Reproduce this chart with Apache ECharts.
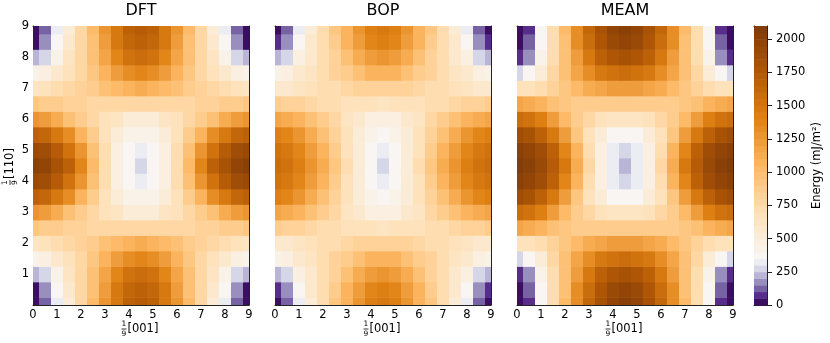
<!DOCTYPE html>
<html>
<head>
<meta charset="utf-8">
<script src="https://cdn.jsdelivr.net/npm/echarts@6/dist/echarts.min.js"></script>
<style>
html, body { margin: 0; padding: 0; background: #fff; }
#chart { width: 830px; height: 343px; }
</style>
</head>
<body>
<div id="chart"></div>
<script>
// grid nodes (x along [001], y along [110]) for the lower-left quarter, the
// surfaces are mirror symmetric about 4.5 in both directions
var steps = [0, 0.5, 1, 1.5, 2, 2.5, 3, 3.5, 4, 4.5];
var panelTitles = ['DFT', 'BOP', 'MEAM'];
var axisTicks = [0, 1, 2, 3, 4, 5, 6, 7, 8, 9];
var energyTicks = [0, 250, 500, 750, 1000, 1250, 1500, 1750, 2000];
var levels = [0, 50, 100, 150, 200, 250, 300, 350, 400, 450, 500, 550, 600, 650, 700,
  750, 800, 850, 900, 950, 1000, 1050, 1100, 1150, 1200, 1250, 1300, 1350, 1400,
  1450, 1500, 1550, 1600, 1650, 1700, 1750, 1800, 1850, 1900, 1950, 2000, 2050, 2100];

// rows: y = 0 .. 4.5, columns: x = 0 .. 4.5  (mJ/m^2)
var dft = [
  [0, 110, 310, 540, 760, 1000, 1250, 1480, 1650, 1720],
  [40, 150, 350, 560, 760, 990, 1230, 1450, 1610, 1680],
  [200, 270, 440, 600, 760, 960, 1170, 1360, 1500, 1550],
  [420, 460, 560, 660, 770, 920, 1070, 1210, 1310, 1350],
  [640, 660, 700, 750, 800, 870, 950, 1030, 1090, 1110],
  [900, 890, 860, 830, 800, 790, 790, 790, 790, 780],
  [1250, 1220, 1120, 980, 850, 760, 680, 600, 540, 520],
  [1650, 1610, 1490, 1300, 1080, 860, 680, 530, 440, 410],
  [1900, 1860, 1740, 1540, 1280, 980, 700, 480, 380, 340],
  [2000, 1960, 1840, 1650, 1380, 1020, 700, 460, 360, 290]
];
var bop = [
  [10, 130, 340, 540, 720, 900, 1080, 1250, 1400, 1460],
  [60, 170, 380, 560, 720, 880, 1050, 1210, 1350, 1400],
  [220, 290, 450, 590, 710, 840, 980, 1110, 1220, 1260],
  [440, 470, 560, 640, 720, 800, 890, 980, 1050, 1070],
  [560, 580, 640, 690, 720, 740, 770, 800, 820, 830],
  [850, 840, 810, 770, 730, 700, 680, 660, 650, 640],
  [1150, 1120, 1060, 970, 860, 750, 640, 550, 490, 470],
  [1400, 1360, 1280, 1140, 980, 820, 660, 510, 410, 380],
  [1530, 1490, 1390, 1240, 1070, 880, 690, 500, 360, 310],
  [1580, 1540, 1430, 1280, 1100, 900, 700, 510, 360, 290]
];
var meam = [
  [0, 90, 360, 700, 1000, 1320, 1600, 1820, 1950, 2000],
  [20, 110, 390, 700, 990, 1300, 1570, 1780, 1910, 1950],
  [90, 180, 440, 720, 980, 1240, 1480, 1670, 1780, 1820],
  [290, 350, 540, 760, 960, 1150, 1320, 1450, 1530, 1560],
  [650, 680, 740, 830, 940, 1040, 1120, 1180, 1220, 1230],
  [1150, 1120, 1060, 990, 920, 880, 860, 860, 860, 860],
  [1550, 1510, 1400, 1230, 1040, 880, 760, 670, 620, 600],
  [1850, 1810, 1680, 1470, 1200, 920, 690, 510, 390, 350],
  [2000, 1960, 1850, 1660, 1380, 1050, 740, 470, 320, 250],
  [2050, 2010, 1900, 1720, 1460, 1130, 780, 480, 320, 200]
];

var FONT = 'DejaVu Sans';
var panels = [dft, bop, meam];
var panelLeft = [33, 275, 517];
var PLOT_TOP = 26, PLOT_W = 216, PLOT_H = 279;

// PuOr reversed, white point pulled down to ~350
var puor = ['#2d004b', '#542788', '#8073ac', '#b2abd2', '#d8daeb', '#f7f7f7',
  '#fee0b6', '#fdb863', '#e08214', '#b35806', '#7f3b08'];
function rgb(h) {
  return [parseInt(h.substr(1, 2), 16), parseInt(h.substr(3, 2), 16), parseInt(h.substr(5, 2), 16)];
}
function colorFor(v) {
  var t = v < 350 ? 0.5 * v / 350 : 0.5 + 0.5 * (v - 350) / (2100 - 350);
  var s = Math.max(0, Math.min(10, t * 10));
  var k = Math.min(9, Math.floor(s)), f = s - k;
  var a = rgb(puor[k]), b = rgb(puor[k + 1]);
  return 'rgb(' + [0, 1, 2].map(function (i) { return Math.round(a[i] + (b[i] - a[i]) * f); }).join(',') + ')';
}

var pieces = [];
for (var k = 0; k < levels.length - 1; k++) {
  var p = { gte: levels[k], color: colorFor((levels[k] + levels[k + 1]) / 2) };
  if (k === levels.length - 2) p.lte = levels[k + 1]; else p.lt = levels[k + 1];
  pieces.push(p);
}

// mirror the quarter into the full 0..9 square
function fullGrid(quad) {
  var out = [];
  var n = steps.length;
  for (var j = 0; j < 2 * n - 1; j++) {
    var qj = j < n ? j : 2 * n - 2 - j;
    var y = j < n ? steps[qj] : 9 - steps[qj];
    for (var i = 0; i < 2 * n - 1; i++) {
      var qi = i < n ? i : 2 * n - 2 - i;
      var x = i < n ? steps[qi] : 9 - steps[qi];
      out.push([x, y, quad[qj][qi]]);
    }
  }
  return out;
}

function cellItem(params, api) {
  var x = api.value(0), y = api.value(1);
  var a = api.coord([x - 0.25, y + 0.25]);
  var b = api.coord([x + 0.25, y - 0.25]);
  var cs = params.coordSys;
  var shape = echarts.graphic.clipRectByRect(
    { x: a[0], y: a[1], width: b[0] - a[0] + 0.6, height: b[1] - a[1] + 0.6 },
    { x: cs.x, y: cs.y, width: cs.width, height: cs.height });
  if (!shape) return null;
  return { type: 'rect', shape: shape, style: { fill: api.visual('color') } };
}

function bandItem(params, api) {
  var a = api.coord([0, api.value(1)]);
  var b = api.coord([1, api.value(0)]);
  return {
    type: 'rect',
    shape: { x: a[0], y: a[1], width: b[0] - a[0], height: b[1] - a[1] + 0.5 },
    style: { fill: api.visual('color') }
  };
}

var lineStyle = { color: '#222', width: 1 };
var grids = [], xAxes = [], yAxes = [], series = [], graphics = [];

panels.forEach(function (quad, k) {
  grids.push({ left: panelLeft[k], top: PLOT_TOP, width: PLOT_W, height: PLOT_H });
  ['bottom', 'top'].forEach(function (pos) {
    xAxes.push({
      gridIndex: k, type: 'value', position: pos, min: 0, max: 9, interval: 1,
      axisLine: { show: true, onZero: false, lineStyle: lineStyle },
      axisTick: { show: true, inside: true, length: 5, lineStyle: lineStyle },
      axisLabel: {
        show: pos === 'bottom', margin: 4, color: '#000', fontFamily: FONT, fontSize: 11.5,
        customValues: axisTicks
      },
      splitLine: { show: false }
    });
  });
  ['left', 'right'].forEach(function (pos) {
    yAxes.push({
      gridIndex: k, type: 'value', position: pos, min: 0, max: 9, interval: 1,
      axisLine: { show: true, onZero: false, lineStyle: lineStyle },
      axisTick: { show: true, inside: true, length: 5, lineStyle: lineStyle },
      axisLabel: {
        show: pos === 'left' && k === 0, showMinLabel: false, margin: 4,
        color: '#000', fontFamily: FONT, fontSize: 11.5
      },
      splitLine: { show: false }
    });
  });
  series.push({
    type: 'custom', name: panelTitles[k], xAxisIndex: 2 * k, yAxisIndex: 2 * k,
    renderItem: cellItem, clip: true, silent: true,
    dimensions: ['x', 'y', 'energy'], encode: { x: 0, y: 1 },
    data: fullGrid(quad)
  });
  var cx = panelLeft[k] + PLOT_W / 2;
  graphics.push({
    type: 'text', x: cx, y: 11,
    style: { text: panelTitles[k], fill: '#000', fontFamily: FONT, fontSize: 16, align: 'center', verticalAlign: 'middle' }
  });
  graphics.push(fracLabel(cx, 329, '[001]', 0));
});
graphics.push(fracLabel(10, PLOT_TOP + PLOT_H / 2, '[110]', Math.PI / 2));

function fracLabel(cx, cy, tail, rot) {
  var small = { fill: '#000', fontFamily: FONT, fontSize: 7.5, align: 'center', verticalAlign: 'middle' };
  return {
    type: 'group', x: cx, y: cy, rotation: rot, silent: true,
    children: [
      { type: 'text', style: Object.assign({ text: '1', x: -17, y: -4.5 }, small) },
      { type: 'line', shape: { x1: -19.5, y1: 0, x2: -14.5, y2: 0 }, style: { stroke: '#000', lineWidth: 0.8 } },
      { type: 'text', style: Object.assign({ text: '9', x: -17, y: 5 }, small) },
      {
        type: 'text',
        style: { text: tail, x: -13.5, y: 0, fill: '#000', fontFamily: FONT, fontSize: 11.5, align: 'left', verticalAlign: 'middle' }
      }
    ]
  };
}

// colour bar
grids.push({ left: 754, top: PLOT_TOP, width: 13, height: PLOT_H });
['bottom', 'top'].forEach(function (pos) {
  xAxes.push({
    gridIndex: 3, type: 'value', position: pos, min: 0, max: 1,
    axisLine: { show: true, onZero: false, lineStyle: lineStyle },
    axisTick: { show: false }, axisLabel: { show: false }, splitLine: { show: false }
  });
});
yAxes.push({
  gridIndex: 3, type: 'value', position: 'left', min: 0, max: 2100,
  axisLine: { show: true, onZero: false, lineStyle: lineStyle },
  axisTick: { show: false }, axisLabel: { show: false }, splitLine: { show: false }
});
yAxes.push({
  gridIndex: 3, type: 'value', position: 'right', min: 0, max: 2100,
  axisLine: { show: true, onZero: false, lineStyle: lineStyle },
  axisTick: { show: true, inside: false, length: 5, lineStyle: lineStyle, customValues: energyTicks },
  axisLabel: {
    margin: 9, color: '#000', fontFamily: FONT, fontSize: 11.5, customValues: energyTicks,
    formatter: function (v) { return String(v); }
  },
  splitLine: { show: false }
});
var bands = [];
for (var b = 0; b < levels.length - 1; b++) {
  bands.push([levels[b], levels[b + 1], (levels[b] + levels[b + 1]) / 2]);
}
series.push({
  type: 'custom', name: 'colorbar', xAxisIndex: 6, yAxisIndex: 7,
  renderItem: bandItem, silent: true,
  dimensions: ['low', 'high', 'energy'], encode: { y: [0, 1] },
  data: bands
});
graphics.push({
  type: 'text', x: 817, y: PLOT_TOP + PLOT_H / 2, rotation: Math.PI / 2,
  style: { text: 'Energy (mJ/m²)', fill: '#000', fontFamily: FONT, fontSize: 11.5, align: 'center', verticalAlign: 'middle' }
});

var chart = echarts.init(document.getElementById('chart'), null, { renderer: 'canvas' });
chart.setOption({
  animation: false,
  backgroundColor: '#fff',
  grid: grids,
  xAxis: xAxes,
  yAxis: yAxes,
  visualMap: {
    type: 'piecewise', show: false, dimension: 2,
    seriesIndex: [0, 1, 2, 3], pieces: pieces
  },
  series: series,
  graphic: graphics
});
</script>
</body>
</html>
